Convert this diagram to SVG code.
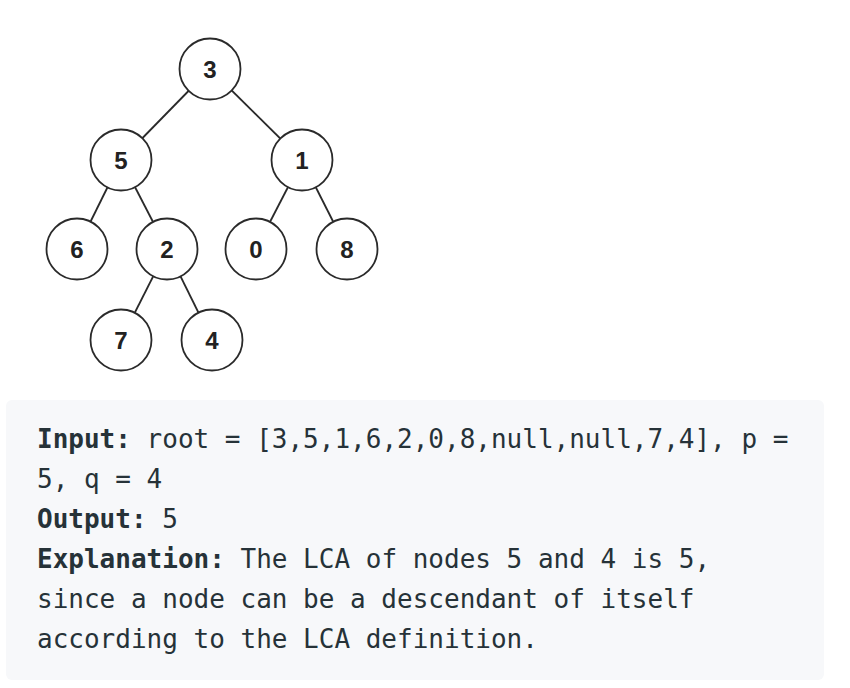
<svg xmlns="http://www.w3.org/2000/svg" width="850" height="688" viewBox="0 0 850 688">
<style>
.n circle{fill:#fff;stroke:#2a2a2a;stroke-width:1.8}
.n text{font-family:"Liberation Sans",Arial,sans-serif;font-size:24px;font-weight:bold;fill:#222;text-anchor:middle}
.e line{stroke:#2a2a2a;stroke-width:1.8}
.t{font-family:"DejaVu Sans Mono",monospace;font-size:26px;fill:#263238}
.b{font-weight:bold}
</style>
<rect width="850" height="688" fill="#fff"/>
<g id="edges" class="e">
<line x1="210" y1="69" x2="121" y2="160"/>
<line x1="210" y1="69" x2="302" y2="160"/>
<line x1="121" y1="160" x2="77" y2="249"/>
<line x1="121" y1="160" x2="167" y2="249"/>
<line x1="302" y1="160" x2="256" y2="249"/>
<line x1="302" y1="160" x2="347" y2="249"/>
<line x1="167" y1="249" x2="121" y2="340"/>
<line x1="167" y1="249" x2="212" y2="340"/>
</g>
<g id="n3" class="n"><circle cx="210" cy="69" r="30.5"/><text x="210" y="77.5">3</text></g>
<g id="n5" class="n"><circle cx="121" cy="160" r="30.5"/><text x="121" y="168.5">5</text></g>
<g id="n1" class="n"><circle cx="302" cy="160" r="30.5"/><text x="302" y="168.5">1</text></g>
<g id="n6" class="n"><circle cx="77" cy="249" r="30.5"/><text x="77" y="257.5">6</text></g>
<g id="n2" class="n"><circle cx="167" cy="249" r="30.5"/><text x="167" y="257.5">2</text></g>
<g id="n0" class="n"><circle cx="256" cy="249" r="30.5"/><text x="256" y="257.5">0</text></g>
<g id="n8" class="n"><circle cx="347" cy="249" r="30.5"/><text x="347" y="257.5">8</text></g>
<g id="n7" class="n"><circle cx="121" cy="340" r="30.5"/><text x="121" y="348.5">7</text></g>
<g id="n4" class="n"><circle cx="212" cy="340" r="30.5"/><text x="212" y="348.5">4</text></g>
<g id="example">
<rect x="6" y="400" width="818" height="280" rx="6" fill="#f7f8fa"/>
<text class="t" x="37" y="448"><tspan class="b">Input:</tspan> root = [3,5,1,6,2,0,8,null,null,7,4], p =</text>
<text class="t" x="37" y="488">5, q = 4</text>
<text class="t" x="37" y="528"><tspan class="b">Output:</tspan> 5</text>
<text class="t" x="37" y="568"><tspan class="b">Explanation:</tspan> The LCA of nodes 5 and 4 is 5,</text>
<text class="t" x="37" y="608">since a node can be a descendant of itself</text>
<text class="t" x="37" y="648">according to the LCA definition.</text>
</g>
</svg>
